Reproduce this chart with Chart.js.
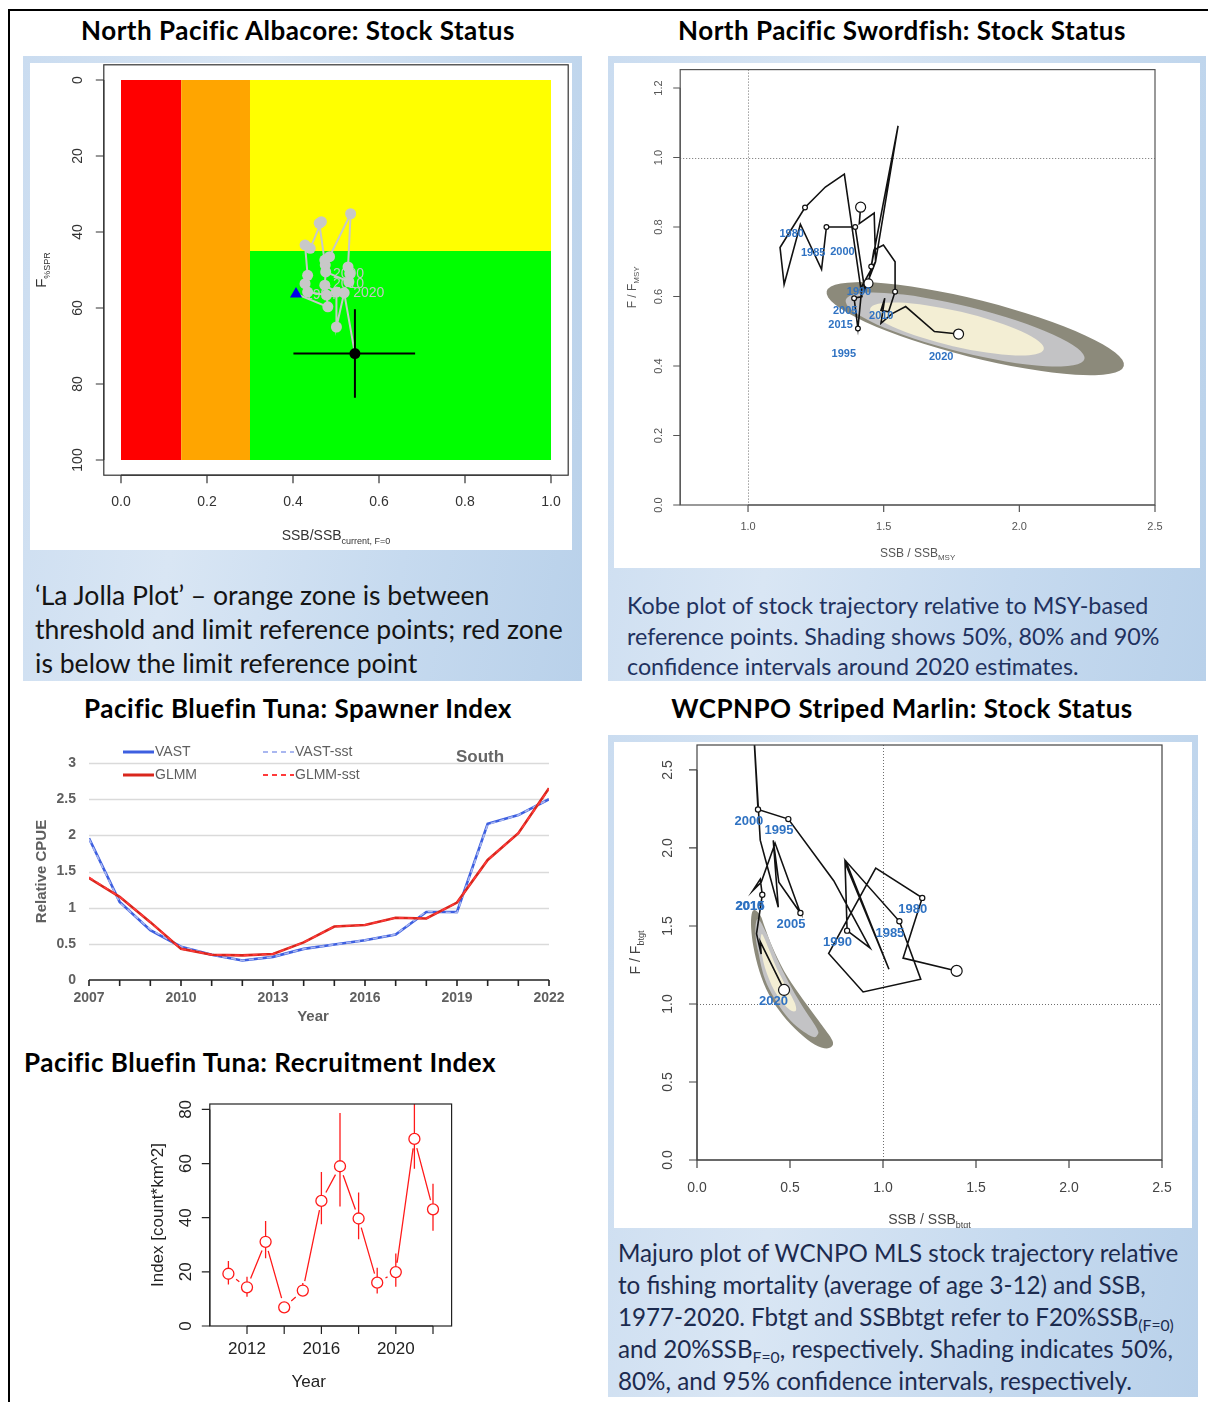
<!DOCTYPE html>
<html>
<head>
<meta charset="utf-8">
<title>North Pacific stock status summaries</title>
<script src="https://cdn.jsdelivr.net/npm/chart.js@4.4.1/dist/chart.umd.min.js"></script>
<style>
  html, body { margin: 0; padding: 0; background: #fff; }
  body { width: 1208px; height: 1402px; position: relative; overflow: hidden; font-family: Lato, "Open Sans", sans-serif; }
  .rule-top { position: absolute; left: 8px; top: 9px; width: 1200px; height: 2px; background: #000; }
  .rule-left { position: absolute; left: 8px; top: 9px; width: 2px; height: 1393px; background: #000; }
  .title { position: absolute; font-weight: 700; font-size: 26px; letter-spacing: 0.5px; line-height: 30px; color: #000; white-space: nowrap; text-align: center; }
  .panel { position: absolute; background: linear-gradient(100deg, #cadcf0 0%, #d9e6f4 35%, #c6daef 70%, #b9d1ea 100%); }
  .plotbg { position: absolute; background: #fff; }
  canvas { position: absolute; }
  .cap { position: absolute; white-space: nowrap; }
  .cap sub { font-size: 65%; line-height: 0; vertical-align: -0.3em; }
</style>
</head>
<body>
<div class="rule-top"></div>
<div class="rule-left"></div>

<div class="title" style="left:0;top:15px;width:596px;">North Pacific Albacore: Stock Status</div>
<div class="title" style="left:604px;top:15px;width:596px;">North Pacific Swordfish: Stock Status</div>
<div class="title" style="left:0;top:693px;width:596px;">Pacific Bluefin Tuna: Spawner Index</div>
<div class="title" style="left:604px;top:693px;width:596px;">WCPNPO Striped Marlin: Stock Status</div>
<div class="title" style="left:24px;top:1047px;text-align:left;">Pacific Bluefin Tuna: Recruitment Index</div>

<div class="panel" style="left:23px;top:56px;width:559px;height:625px;"></div>
<div class="plotbg" style="left:30px;top:63px;width:542px;height:487px;"></div>
<div class="panel" style="left:608px;top:56px;width:598px;height:625px;"></div>
<div class="plotbg" style="left:614px;top:63px;width:586px;height:505px;"></div>
<div class="panel" style="left:608px;top:735px;width:590px;height:662px;"></div>
<div class="plotbg" style="left:614px;top:742px;width:578px;height:486px;"></div>

<canvas id="albacore" width="542" height="487" style="left:30px;top:63px;"></canvas>
<canvas id="swordfish" width="586" height="505" style="left:614px;top:63px;"></canvas>
<canvas id="spawner" width="560" height="300" style="left:20px;top:735px;"></canvas>
<canvas id="recruit" width="330" height="310" style="left:140px;top:1090px;"></canvas>
<canvas id="marlin" width="578" height="486" style="left:614px;top:742px;"></canvas>

<div class="cap" style="left:35px;top:578px;font-size:26.6px;line-height:34px;color:#141414;">
‘La Jolla Plot’ – orange zone is between<br>threshold and limit reference points; red zone<br>is below the limit reference point</div>
<div class="cap" style="left:627px;top:590px;font-size:23.3px;line-height:30.5px;color:#1f3260;">
Kobe plot of stock trajectory relative to MSY-based<br>reference points. Shading shows 50%, 80% and 90%<br>confidence intervals around 2020 estimates.</div>
<div class="cap" style="left:618px;top:1237px;font-size:24.2px;line-height:32px;color:#1c2b4f;">
Majuro plot of WCNPO MLS stock trajectory relative<br>to fishing mortality (average of age 3-12) and SSB,<br>1977-2020. Fbtgt and SSBbtgt refer to F20%SSB<sub>(F=0)</sub><br>and 20%SSB<sub>F=0</sub>, respectively. Shading indicates 50%,<br>80%, and 95% confidence intervals, respectively.</div>

<script>
// ===================== Data =====================

// North Pacific albacore: La Jolla plot
const albZoneEdges = [0, 0.14, 0.30, 1.0];      // SSB/SSB(current,F=0): limit, threshold, upper bound
const albFThreshold = 45;                        // F%SPR boundary between yellow and green
const albFRange = [0, 100];
const albTicksX = [0, 0.2, 0.4, 0.6, 0.8, 1.0];
const albTickLabelsX = ['0.0', '0.2', '0.4', '0.6', '0.8', '1.0'];
const albTicksY = [0, 20, 40, 60, 80, 100];
const albTickLabelsY = ['0', '20', '40', '60', '80', '100'];
const albSSB = [0.407, 0.481, 0.478, 0.434, 0.428, 0.434, 0.428, 0.440, 0.466, 0.461, 0.475, 0.474,
                0.485, 0.534, 0.528, 0.532, 0.530, 0.476, 0.474, 0.501, 0.501, 0.519, 0.544];
const albF   = [56.3, 59.7, 56.6, 55.8, 53.6, 51.4, 43.4, 44.3, 37.3, 37.7, 48.7, 47.4,
                46.5, 35.2, 49.2, 50.9, 53.1, 50.5, 54.0, 55.8, 65.0, 56.0, 72.0];
const albCurrentSSB = [0.544];
const albCurrentF = [72.0];
const albCurrentSSBInterval = [0.401, 0.684];
const albCurrentFInterval = [60.3, 83.6];
const albYearText = ['1994', '2000', '2010', '2020'];
const albYearSSB  = [0.428, 0.493, 0.493, 0.540];
const albYearF    = [56.6, 51.1, 53.8, 56.0];

// North Pacific swordfish: Kobe plot
const swoTicksX = [1.0, 1.5, 2.0, 2.5];
const swoTickLabelsX = ['1.0', '1.5', '2.0', '2.5'];
const swoTicksY = [0, 0.2, 0.4, 0.6, 0.8, 1.0, 1.2];
const swoTickLabelsY = ['0.0', '0.2', '0.4', '0.6', '0.8', '1.0', '1.2'];
const swoSSB = [1.415, 1.410, 1.465, 1.470, 1.430, 1.395, 1.289, 1.271, 1.193, 1.133, 1.118, 1.210,
                1.285, 1.355, 1.420, 1.391, 1.405, 1.420, 1.470, 1.553, 1.454, 1.444, 1.464, 1.499,
                1.542, 1.542, 1.518, 1.490, 1.504, 1.490, 1.530, 1.581, 1.687, 1.776];
const swoF   = [0.857, 0.810, 0.840, 0.700, 0.620, 0.800, 0.800, 0.678, 0.808, 0.635, 0.741, 0.856,
                0.915, 0.952, 0.600, 0.595, 0.508, 0.630, 0.700, 1.091, 0.686, 0.638, 0.734, 0.748,
                0.700, 0.614, 0.556, 0.560, 0.595, 0.523, 0.550, 0.571, 0.499, 0.492];
// 0 = plain vertex, 1 = small open marker, 2 = large open marker, 3 = medium open marker
const swoMarker = [2, 0, 0, 0, 0, 1, 1, 0, 0, 0, 0, 1,
                   0, 0, 0, 1, 1, 0, 0, 0, 1, 3, 0, 0,
                   0, 1, 0, 0, 0, 0, 0, 0, 0, 2];
const swoYearText = ['1980', '1985', '2000', '1990', '2005', '2010', '2015', '1995', '2020'];
const swoYearSSB  = [1.161, 1.240, 1.348, 1.409, 1.358, 1.491, 1.341, 1.353, 1.712];
const swoYearF    = [0.779, 0.726, 0.728, 0.613, 0.559, 0.544, 0.518, 0.434, 0.425];
// confidence regions around the 2020 estimate: major-axis end points and half thickness (F units)
const swoRegionLevel = ['90%', '80%', '50%'];
const swoRegionSSB1 = [1.29, 1.36, 1.45];
const swoRegionF1   = [0.615, 0.590, 0.565];
const swoRegionSSB2 = [2.385, 2.240, 2.090];
const swoRegionF2   = [0.400, 0.420, 0.448];
const swoRegionHalfF = [0.085, 0.068, 0.052];

// Pacific bluefin tuna: spawner index (South)
const spnYears = [2007, 2008, 2009, 2010, 2011, 2012, 2013, 2014, 2015, 2016, 2017, 2018, 2019, 2020, 2021, 2022];
const spnVAST     = [1.96, 1.08, 0.69, 0.46, 0.35, 0.27, 0.32, 0.43, 0.49, 0.55, 0.63, 0.94, 0.94, 2.16, 2.28, 2.50];
const spnVASTsst  = [1.95, 1.07, 0.70, 0.46, 0.35, 0.27, 0.32, 0.43, 0.49, 0.55, 0.63, 0.95, 0.93, 2.15, 2.28, 2.50];
const spnGLMM     = [1.41, 1.15, 0.80, 0.43, 0.35, 0.34, 0.36, 0.52, 0.74, 0.76, 0.86, 0.85, 1.07, 1.66, 2.03, 2.65];
const spnGLMMsst  = [1.42, 1.15, 0.80, 0.43, 0.35, 0.34, 0.36, 0.52, 0.74, 0.76, 0.86, 0.85, 1.07, 1.66, 2.03, 2.64];
const spnTicksY = [0, 0.5, 1, 1.5, 2, 2.5, 3];
const spnTickLabelsY = ['0', '0.5', '1', '1.5', '2', '2.5', '3'];
const spnTickLabelsX = ['2007', '2010', '2013', '2016', '2019', '2022'];

// Pacific bluefin tuna: recruitment index
const recYears = [2011, 2012, 2013, 2014, 2015, 2016, 2017, 2018, 2019, 2020, 2021, 2022];
const recIndex = [19.3, 14.3, 31.1, 6.9, 13.1, 46.2, 59.0, 39.7, 16.0, 19.9, 69.1, 43.1];
const recLower = [15.3, 10.8, 25.0, 5.8, 11.1, 37.6, 44.1, 32.0, 12.0, 14.5, 58.1, 35.2];
const recUpper = [24.0, 18.2, 38.8, 8.3, 15.9, 56.9, 78.7, 49.3, 21.5, 26.8, 86.0, 52.5];
const recTicksX = [2012, 2014, 2016, 2018, 2020, 2022];
const recTickLabelsX = ['2012', '', '2016', '', '2020', ''];
const recTicksY = [0, 20, 40, 60, 80];
const recTickLabelsY = ['0', '20', '40', '60', '80'];

// WCPNPO striped marlin: Majuro plot
const marTicksX = [0, 0.5, 1.0, 1.5, 2.0, 2.5];
const marTickLabelsX = ['0.0', '0.5', '1.0', '1.5', '2.0', '2.5'];
const marTicksY = [0, 0.5, 1.0, 1.5, 2.0, 2.5];
const marTickLabelsY = ['0.0', '0.5', '1.0', '1.5', '2.0', '2.5'];
const marSSB = [1.396, 1.108, 1.160, 1.211, 0.961, 0.708, 0.893, 1.203, 1.088, 0.800, 1.032, 0.796,
                0.807, 0.930, 0.735, 0.491, 0.328, 0.300, 0.340, 0.437, 0.410, 0.440, 0.556, 0.420,
                0.345, 0.300, 0.340, 0.351, 0.320, 0.345, 0.340, 0.468];
const marF   = [1.212, 1.294, 1.490, 1.680, 1.871, 1.324, 1.077, 1.159, 1.530, 1.916, 1.223, 1.905,
                1.470, 1.360, 1.790, 2.185, 2.247, 2.850, 2.050, 1.620, 2.049, 1.780, 1.583, 2.030,
                1.780, 1.727, 1.800, 1.700, 1.450, 1.320, 1.400, 1.090];
const marMarker = [2, 0, 0, 1, 0, 0, 0, 0, 1, 0, 0, 0,
                   1, 0, 0, 1, 1, 0, 0, 0, 0, 0, 1, 0,
                   0, 0, 0, 1, 0, 0, 0, 2];
const marYearText = ['2000', '1995', '2010', '2015', '2005', '1990', '1985', '1980', '2020'];
const marYearSSB  = [0.279, 0.441, 0.283, 0.286, 0.505, 0.755, 1.037, 1.160, 0.411];
const marYearF    = [2.172, 2.114, 1.624, 1.624, 1.509, 1.395, 1.453, 1.609, 1.015];
// confidence regions (outlines, SSB/SSBbtgt and F/Fbtgt)
const marOuterSSB = [0.310, 0.341, 0.365, 0.406, 0.468, 0.550, 0.642, 0.714, 0.731, 0.698, 0.632, 0.550, 0.458, 0.386, 0.335, 0.304, 0.291, 0.294];
const marOuterF   = [1.603, 1.567, 1.491, 1.363, 1.212, 1.062, 0.912, 0.794, 0.740, 0.715, 0.740, 0.815, 0.933, 1.062, 1.212, 1.363, 1.491, 1.577];
const marMidSSB   = [0.328, 0.376, 0.427, 0.489, 0.560, 0.642, 0.649, 0.612, 0.489, 0.376, 0.328, 0.314];
const marMidF     = [1.545, 1.448, 1.298, 1.148, 0.998, 0.848, 0.805, 0.794, 0.912, 1.127, 1.341, 1.470];
const marInnerSSB = [0.349, 0.386, 0.427, 0.478, 0.525, 0.530, 0.489, 0.417, 0.365, 0.345];
const marInnerF   = [1.448, 1.352, 1.234, 1.116, 1.009, 0.955, 0.972, 1.084, 1.234, 1.363];

// ===================== Drawing helpers =====================
const SANS = '"Liberation Sans", Arial, sans-serif';

function richText(ctx, parts, x, y, rot) {
  // parts: [text, font, baseline shift]
  ctx.save();
  ctx.translate(x, y);
  if (rot) ctx.rotate(rot);
  ctx.textAlign = 'left';
  ctx.textBaseline = 'alphabetic';
  let w = 0;
  parts.forEach(p => { ctx.font = p[1]; w += ctx.measureText(p[0]).width; });
  let cx = -w / 2;
  parts.forEach(p => { ctx.font = p[1]; ctx.fillText(p[0], cx, p[2]); cx += ctx.measureText(p[0]).width; });
  ctx.restore();
}

function smoothClosedPath(ctx, pts) {
  const n = pts.length;
  ctx.beginPath();
  ctx.moveTo(pts[0][0], pts[0][1]);
  for (let i = 0; i < n; i++) {
    const p0 = pts[(i - 1 + n) % n], p1 = pts[i], p2 = pts[(i + 1) % n], p3 = pts[(i + 2) % n];
    ctx.bezierCurveTo(p1[0] + (p2[0] - p0[0]) / 6, p1[1] + (p2[1] - p0[1]) / 6,
                      p2[0] - (p3[0] - p1[0]) / 6, p2[1] - (p3[1] - p1[1]) / 6, p2[0], p2[1]);
  }
  ctx.closePath();
}

// R-style axes: box, outward ticks, rotated y labels, axis titles
function rAxesPlugin(cfg) {
  return {
    id: 'rAxes',
    afterDraw(chart) {
      const { ctx, chartArea: a } = chart;
      const sx = chart.scales.x, sy = chart.scales.y;
      ctx.save();
      ctx.strokeStyle = cfg.lineColor;
      ctx.lineWidth = cfg.lineWidth;
      ctx.strokeRect(a.left, a.top, a.right - a.left, a.bottom - a.top);
      const xs = cfg.xTicks.map(v => sx.getPixelForValue(v));
      const ys = cfg.yTicks.map(v => sy.getPixelForValue(v));
      ctx.beginPath();
      ctx.moveTo(xs[0], a.bottom); ctx.lineTo(xs[xs.length - 1], a.bottom);
      xs.forEach(px => { ctx.moveTo(px, a.bottom); ctx.lineTo(px, a.bottom + cfg.tickLen); });
      ctx.moveTo(a.left, ys[0]); ctx.lineTo(a.left, ys[ys.length - 1]);
      ys.forEach(py => { ctx.moveTo(a.left - cfg.tickLen, py); ctx.lineTo(a.left, py); });
      ctx.stroke();
      ctx.fillStyle = cfg.textColor;
      ctx.font = cfg.tickFont;
      ctx.textAlign = 'center';
      ctx.textBaseline = 'middle';
      xs.forEach((px, i) => ctx.fillText(cfg.xLabels[i], px, a.bottom + cfg.xLabelGap));
      ys.forEach((py, i) => {
        ctx.save(); ctx.translate(a.left - cfg.yLabelGap, py); ctx.rotate(-Math.PI / 2);
        ctx.fillText(cfg.yLabels[i], 0, 0); ctx.restore();
      });
      richText(ctx, cfg.xTitle, (a.left + a.right) / 2 + (cfg.xTitleDx || 0), a.bottom + cfg.xTitleGap, 0);
      richText(ctx, cfg.yTitle, a.left - cfg.yTitleGap, (a.top + a.bottom) / 2, -Math.PI / 2);
      ctx.restore();
    }
  };
}

function yearLabelsPlugin(texts, xs, ys, font, color) {
  return {
    id: 'yearLabels',
    afterDatasetsDraw(chart) {
      const { ctx } = chart, sx = chart.scales.x, sy = chart.scales.y;
      ctx.save();
      ctx.font = font; ctx.fillStyle = color; ctx.textAlign = 'center'; ctx.textBaseline = 'middle';
      texts.forEach((t, i) => ctx.fillText(t, sx.getPixelForValue(xs[i]), sy.getPixelForValue(ys[i])));
      ctx.restore();
    }
  };
}

function refLinesPlugin(xv, yv) {
  return {
    id: 'refLines',
    beforeDatasetsDraw(chart) {
      const { ctx, chartArea: a } = chart, sx = chart.scales.x, sy = chart.scales.y;
      ctx.save();
      ctx.strokeStyle = '#6e6e6e'; ctx.lineWidth = 1; ctx.setLineDash([1, 2]);
      ctx.beginPath();
      const px = Math.round(sx.getPixelForValue(xv)) + 0.5, py = Math.round(sy.getPixelForValue(yv)) + 0.5;
      ctx.moveTo(px, a.top); ctx.lineTo(px, a.bottom);
      ctx.moveTo(a.left, py); ctx.lineTo(a.right, py);
      ctx.stroke();
      ctx.restore();
    }
  };
}

function trajectoryDataset(xs, ys, markers, bigR, smallR, midR) {
  return {
    type: 'line',
    data: xs.map((v, i) => ({ x: v, y: ys[i] })),
    borderColor: '#111', borderWidth: 1.6, tension: 0,
    pointRadius: markers.map(m => m === 2 ? bigR : m === 1 ? smallR : m === 3 ? midR : 0),
    pointBackgroundColor: '#fff', pointBorderColor: '#111', pointBorderWidth: 1.2,
    clip: 0
  };
}

function baseOptions(padding, xMin, xMax, yMin, yMax, yReverse) {
  return {
    responsive: false, animation: false, devicePixelRatio: 1,
    layout: { padding, autoPadding: false },
    plugins: { legend: { display: false }, tooltip: { enabled: false } },
    events: [],
    scales: {
      x: { type: 'linear', min: xMin, max: xMax, display: false },
      y: { type: 'linear', min: yMin, max: yMax, reverse: !!yReverse, display: false }
    }
  };
}

// ===================== Albacore =====================
const albZones = {
  id: 'albZones',
  beforeDatasetsDraw(chart) {
    const { ctx } = chart, sx = chart.scales.x, sy = chart.scales.y;
    const rect = (x0, x1, f0, f1, c) => {
      const l = sx.getPixelForValue(x0), r = sx.getPixelForValue(x1);
      const t = sy.getPixelForValue(f0), b = sy.getPixelForValue(f1);
      ctx.fillStyle = c; ctx.fillRect(l, t, r - l, b - t);
    };
    ctx.save();
    rect(albZoneEdges[0], albZoneEdges[1], albFRange[0], albFRange[1], '#ff0000');
    rect(albZoneEdges[1], albZoneEdges[2], albFRange[0], albFRange[1], '#ffa500');
    rect(albZoneEdges[2], albZoneEdges[3], albFRange[0], albFThreshold, '#ffff00');
    rect(albZoneEdges[2], albZoneEdges[3], albFThreshold, albFRange[1], '#00ff00');
    ctx.font = '14px ' + SANS; ctx.fillStyle = '#c4c4c4'; ctx.textAlign = 'left'; ctx.textBaseline = 'middle';
    albYearText.forEach((t, i) => ctx.fillText(t, sx.getPixelForValue(albYearSSB[i]), sy.getPixelForValue(albYearF[i])));
    ctx.restore();
  },
  afterDatasetsDraw(chart) {
    const { ctx } = chart, sx = chart.scales.x, sy = chart.scales.y;
    const cx = sx.getPixelForValue(albCurrentSSB[0]), cy = sy.getPixelForValue(albCurrentF[0]);
    ctx.save();
    ctx.strokeStyle = '#000'; ctx.lineWidth = 2;
    ctx.beginPath();
    ctx.moveTo(sx.getPixelForValue(albCurrentSSBInterval[0]), cy);
    ctx.lineTo(sx.getPixelForValue(albCurrentSSBInterval[1]), cy);
    ctx.moveTo(cx, sy.getPixelForValue(albCurrentFInterval[0]));
    ctx.lineTo(cx, sy.getPixelForValue(albCurrentFInterval[1]));
    ctx.stroke();
    ctx.restore();
  }
};

new Chart(document.getElementById('albacore'), {
  type: 'line',
  data: {
    datasets: [
      { data: [{ x: albSSB[0], y: albF[0] }], showLine: false, pointStyle: 'triangle', pointRadius: 7,
        pointBackgroundColor: '#0000ee', pointBorderColor: '#0000ee', pointBorderWidth: 0 },
      { data: [{ x: albCurrentSSB[0], y: albCurrentF[0] }], showLine: false, pointRadius: 5.5,
        pointBackgroundColor: '#000', pointBorderColor: '#000', pointBorderWidth: 0 },
      { data: albSSB.map((v, i) => ({ x: v, y: albF[i] })), borderColor: '#c8c8c8', borderWidth: 2, tension: 0,
        pointRadius: albSSB.map((v, i) => (i === 0 || i === albSSB.length - 1) ? 0 : 5.5),
        pointBackgroundColor: '#c8c8c8', pointBorderWidth: 0 }
    ]
  },
  options: baseOptions({ left: 73.8, right: 3.8, top: 1.8, bottom: 74.8 }, -0.04, 1.04, -4, 104, true),
  plugins: [albZones, rAxesPlugin({
    xTicks: albTicksX, xLabels: albTickLabelsX, yTicks: albTicksY, yLabels: albTickLabelsY,
    lineColor: '#333', lineWidth: 1.2, tickLen: 8, textColor: '#333', tickFont: '14px ' + SANS,
    xLabelGap: 27, yLabelGap: 26,
    xTitle: [['SSB/SSB', '14px ' + SANS, 0], ['current, F=0', '9px ' + SANS, 4]], xTitleGap: 65,
    yTitle: [['F', '15px ' + SANS, 0], ['%SPR', '9px ' + SANS, 4]], yTitleGap: 58
  })]
});

// ===================== Swordfish =====================
const swoRegions = {
  id: 'swoRegions',
  beforeDatasetsDraw(chart) {
    const { ctx } = chart, sx = chart.scales.x, sy = chart.scales.y;
    const colors = ['#8c8a7b', '#c3c3c5', '#f3eed4'];
    ctx.save();
    swoRegionLevel.forEach((lvl, i) => {
      const x1 = sx.getPixelForValue(swoRegionSSB1[i]), y1 = sy.getPixelForValue(swoRegionF1[i]);
      const x2 = sx.getPixelForValue(swoRegionSSB2[i]), y2 = sy.getPixelForValue(swoRegionF2[i]);
      const th = Math.atan2(y2 - y1, x2 - x1);
      const a = Math.hypot(x2 - x1, y2 - y1) / 2;
      const hv = Math.abs(sy.getPixelForValue(0) - sy.getPixelForValue(swoRegionHalfF[i]));
      ctx.fillStyle = colors[i];
      ctx.beginPath();
      ctx.ellipse((x1 + x2) / 2, (y1 + y2) / 2, a, hv * Math.cos(th), th, 0, Math.PI * 2);
      ctx.fill();
    });
    ctx.restore();
  }
};

new Chart(document.getElementById('swordfish'), {
  type: 'line',
  data: { datasets: [trajectoryDataset(swoSSB, swoF, swoMarker, 5, 2.4, 4.5)] },
  options: baseOptions({ left: 66.2, right: 45, top: 6.6, bottom: 63 }, 0.75, 2.5, 0, 1.253),
  plugins: [swoRegions, refLinesPlugin(1.0, 1.0),
    yearLabelsPlugin(swoYearText, swoYearSSB, swoYearF, 'bold 11px ' + SANS, '#2f72c2'),
    rAxesPlugin({
      xTicks: swoTicksX, xLabels: swoTickLabelsX, yTicks: swoTicksY, yLabels: swoTickLabelsY,
      lineColor: '#555', lineWidth: 1.2, tickLen: 7, textColor: '#555', tickFont: '11px ' + SANS,
      xLabelGap: 22, yLabelGap: 21,
      xTitle: [['SSB / SSB', '12px ' + SANS, 0], ['MSY', '8px ' + SANS, 3]], xTitleGap: 52,
      yTitle: [['F / F', '12px ' + SANS, 0], ['MSY', '8px ' + SANS, 3]], yTitleGap: 44
    })]
});

// ===================== Spawner index =====================
const spnAxes = {
  id: 'spnAxes',
  beforeDatasetsDraw(chart) {
    const { ctx, chartArea: a } = chart, sy = chart.scales.y;
    ctx.save();
    ctx.strokeStyle = '#dadada'; ctx.lineWidth = 1.3;
    ctx.beginPath();
    spnTicksY.slice(1).forEach(v => { const py = Math.round(sy.getPixelForValue(v)) + 0.5; ctx.moveTo(a.left, py); ctx.lineTo(a.right, py); });
    ctx.stroke();
    ctx.restore();
  },
  afterDatasetsDraw(chart) {
    const { ctx, chartArea: a } = chart, sx = chart.scales.x, sy = chart.scales.y;
    ctx.save();
    ctx.strokeStyle = '#222'; ctx.lineWidth = 1.6;
    ctx.beginPath();
    ctx.moveTo(a.left, a.bottom); ctx.lineTo(a.right, a.bottom);
    spnYears.forEach(yr => { const px = sx.getPixelForValue(yr); ctx.moveTo(px, a.bottom); ctx.lineTo(px, a.bottom + 6); });
    ctx.stroke();
    ctx.fillStyle = '#5f5f5f'; ctx.font = 'bold 14px ' + SANS;
    ctx.textAlign = 'right'; ctx.textBaseline = 'middle';
    spnTicksY.forEach((v, i) => ctx.fillText(spnTickLabelsY[i], a.left - 13, sy.getPixelForValue(v)));
    ctx.textAlign = 'center';
    spnTickLabelsX.forEach(t => ctx.fillText(t, sx.getPixelForValue(Number(t)), a.bottom + 18));
    ctx.font = 'bold 15px ' + SANS;
    ctx.fillText('Year', (a.left + a.right) / 2 - 6, a.bottom + 37);
    ctx.save(); ctx.translate(22, (a.top + a.bottom) / 2); ctx.rotate(-Math.PI / 2);
    ctx.fillText('Relative CPUE', 0, 0); ctx.restore();
    // legend
    const ds = chart.data.datasets;
    const entries = [[ds[3], 'VAST', 103, 17], [ds[1], 'GLMM', 103, 40], [ds[2], 'VAST-sst', 243, 17], [ds[0], 'GLMM-sst', 243, 40]];
    ctx.font = '14px ' + SANS; ctx.textAlign = 'left'; ctx.fillStyle = '#5f5f5f';
    entries.forEach(e => {
      ctx.strokeStyle = e[0].borderColor; ctx.lineWidth = e[0].borderDash ? 2 : 3;
      ctx.setLineDash(e[0].borderDash || []);
      ctx.beginPath(); ctx.moveTo(e[2], e[3]); ctx.lineTo(e[2] + 31, e[3]); ctx.stroke();
      ctx.fillText(e[1], e[2] + 32, e[3]);
    });
    ctx.setLineDash([]);
    ctx.font = 'bold 17px ' + SANS; ctx.fillStyle = '#666';
    ctx.fillText('South', 436, 22);
    ctx.restore();
  }
};

const spnPts = arr => spnYears.map((yr, i) => ({ x: yr, y: arr[i] }));
new Chart(document.getElementById('spawner'), {
  type: 'line',
  data: {
    datasets: [
      { label: 'GLMM-sst', data: spnPts(spnGLMMsst), borderColor: '#ff3a3a', borderWidth: 1.6, borderDash: [5, 4], pointRadius: 0, tension: 0 },
      { label: 'GLMM', data: spnPts(spnGLMM), borderColor: '#d9261c', borderWidth: 2.6, pointRadius: 0, tension: 0 },
      { label: 'VAST-sst', data: spnPts(spnVASTsst), borderColor: '#a9b7f0', borderWidth: 1.6, borderDash: [5, 4], pointRadius: 0, tension: 0 },
      { label: 'VAST', data: spnPts(spnVAST), borderColor: '#3d5fe0', borderWidth: 2.6, pointRadius: 0, tension: 0 }
    ]
  },
  options: baseOptions({ left: 69, right: 31, top: 28, bottom: 55 }, 2007, 2022, 0, 3),
  plugins: [spnAxes]
});

// ===================== Recruitment index =====================
const recMarks = {
  id: 'recMarks',
  afterDatasetsDraw(chart) {
    const { ctx, chartArea: a } = chart, sx = chart.scales.x, sy = chart.scales.y;
    const r = 5.5, gap = 9.5;
    ctx.save();
    ctx.beginPath(); ctx.rect(a.left, a.top, a.right - a.left, a.bottom - a.top); ctx.clip();
    ctx.strokeStyle = '#ff1a1a'; ctx.lineWidth = 1.3;
    ctx.beginPath();
    const pts = recYears.map((yr, i) => [sx.getPixelForValue(yr), sy.getPixelForValue(recIndex[i])]);
    for (let i = 0; i < pts.length - 1; i++) {
      const [x0, y0] = pts[i], [x1, y1] = pts[i + 1];
      const d = Math.hypot(x1 - x0, y1 - y0);
      if (d <= 2 * gap) continue;
      const ux = (x1 - x0) / d, uy = (y1 - y0) / d;
      ctx.moveTo(x0 + ux * gap, y0 + uy * gap); ctx.lineTo(x1 - ux * gap, y1 - uy * gap);
    }
    recYears.forEach((yr, i) => {
      const px = pts[i][0], py = pts[i][1];
      const lo = sy.getPixelForValue(recLower[i]), hi = sy.getPixelForValue(recUpper[i]);
      if (lo > py + r) { ctx.moveTo(px, py + r); ctx.lineTo(px, lo); }
      if (hi < py - r) { ctx.moveTo(px, py - r); ctx.lineTo(px, hi); }
    });
    ctx.stroke();
    ctx.restore();
  }
};

new Chart(document.getElementById('recruit'), {
  type: 'line',
  data: {
    datasets: [{ data: recYears.map((yr, i) => ({ x: yr, y: recIndex[i] })), showLine: false,
      pointRadius: 5.5, pointBackgroundColor: 'rgba(0,0,0,0)', pointBorderColor: '#ff1a1a', pointBorderWidth: 1.3 }]
  },
  options: baseOptions({ left: 69.8, right: 18.4, top: 14, bottom: 74 }, 2010, 2023, 0, 82),
  plugins: [recMarks, rAxesPlugin({
    xTicks: recTicksX, xLabels: recTickLabelsX, yTicks: recTicksY, yLabels: recTickLabelsY,
    lineColor: '#222', lineWidth: 1.2, tickLen: 8, textColor: '#222', tickFont: '17px ' + SANS,
    xLabelGap: 23, yLabelGap: 23,
    xTitle: [['Year', '17px ' + SANS, 0]], xTitleGap: 61, xTitleDx: -22,
    yTitle: [['Index [count*km^2]', '17px ' + SANS, 0]], yTitleGap: 47
  })]
});

// ===================== Striped marlin =====================
const marRegions = {
  id: 'marRegions',
  beforeDatasetsDraw(chart) {
    const { ctx } = chart, sx = chart.scales.x, sy = chart.scales.y;
    const shapes = [[marOuterSSB, marOuterF, '#8c8a7b'], [marMidSSB, marMidF, '#c3c3c5'], [marInnerSSB, marInnerF, '#f3eed4']];
    ctx.save();
    shapes.forEach(s => {
      const pts = s[0].map((v, i) => [sx.getPixelForValue(v), sy.getPixelForValue(s[1][i])]);
      smoothClosedPath(ctx, pts);
      ctx.fillStyle = s[2];
      ctx.fill();
    });
    ctx.restore();
  }
};

new Chart(document.getElementById('marlin'), {
  type: 'line',
  data: { datasets: [trajectoryDataset(marSSB, marF, marMarker, 5.5, 2.6, 4)] },
  options: baseOptions({ left: 83, right: 30, top: 3, bottom: 68 }, 0, 2.5, 0, 2.66),
  plugins: [refLinesPlugin(1.0, 1.0), marRegions,
    yearLabelsPlugin(marYearText, marYearSSB, marYearF, 'bold 13px ' + SANS, '#2f72c2'),
    rAxesPlugin({
      xTicks: marTicksX, xLabels: marTickLabelsX, yTicks: marTicksY, yLabels: marTickLabelsY,
      lineColor: '#444', lineWidth: 1.2, tickLen: 8, textColor: '#444', tickFont: '14px ' + SANS,
      xLabelGap: 28, yLabelGap: 29,
      xTitle: [['SSB / SSB', '14px ' + SANS, 0], ['btgt', '9px ' + SANS, 4]], xTitleGap: 64,
      yTitle: [['F / F', '14px ' + SANS, 0], ['btgt', '9px ' + SANS, 4]], yTitleGap: 57
    })]
});
</script>
</body>
</html>
